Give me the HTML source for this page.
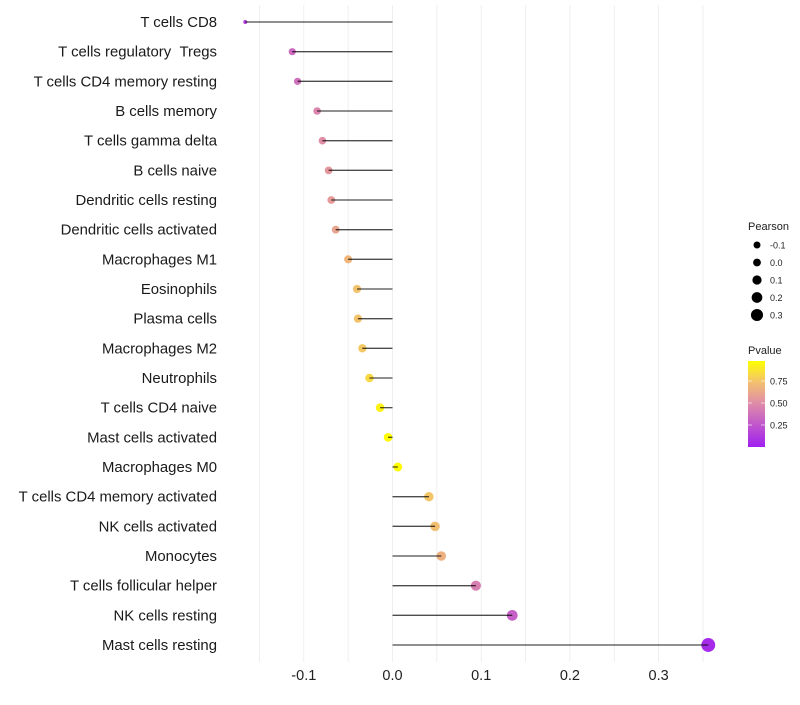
<!DOCTYPE html>
<html><head><meta charset="utf-8"><style>
body{margin:0;background:#fff;}
svg{font-family:"Liberation Sans",sans-serif;}
</style></head><body>
<svg id="chart" width="800" height="700"></svg>
<script>
const categories=["T cells CD8","T cells regulatory \u00a0Tregs","T cells CD4 memory resting","B cells memory","T cells gamma delta","B cells naive","Dendritic cells resting","Dendritic cells activated","Macrophages M1","Eosinophils","Plasma cells","Macrophages M2","Neutrophils","T cells CD4 naive","Mast cells activated","Macrophages M0","T cells CD4 memory activated","NK cells activated","Monocytes","T cells follicular helper","NK cells resting","Mast cells resting"];
const pearson=[-0.166,-0.113,-0.107,-0.085,-0.079,-0.072,-0.069,-0.064,-0.050,-0.040,-0.039,-0.034,-0.026,-0.014,-0.005,0.006,0.041,0.048,0.055,0.094,0.135,0.356];
const pvalue=[0.15,0.35,0.38,0.47,0.52,0.56,0.58,0.62,0.7,0.76,0.76,0.78,0.85,0.95,0.99,0.99,0.77,0.74,0.68,0.45,0.3,0.05];
const xTicks=[-0.1,0,0.1,0.2,0.3];
const xTickLabels=["-0.1","0.0","0.1","0.2","0.3"];
const gridVals=[-0.15,-0.1,-0.05,0,0.05,0.1,0.15,0.2,0.25,0.3,0.35];
const sizeLegend=[-0.1,0.0,0.1,0.2,0.3];
const colorLegendTicks=[0.25,0.5,0.75];

const NS="http://www.w3.org/2000/svg";
const svg=document.getElementById('chart');
function mk(t,a,p){const e=document.createElementNS(NS,t);for(const k in a)e.setAttribute(k,a[k]);(p||svg).appendChild(e);return e;}
const x=v=>392.5+v*887;
const y=i=>22+i*(623/(categories.length-1));
const pmin=Math.min(...pearson);
const rad=v=>v<=pmin+1e-9?2:Math.max(2,4.4+7.2*v);
function lerp(a,b,t){return a.map((c,i)=>Math.round(c+(b[i]-c)*t));}
const stops=[[0,[160,32,240]],[0.5,[222,138,170]],[0.75,[243,192,112]],[1,[255,255,0]]];
function col(p){for(let i=1;i<stops.length;i++){if(p<=stops[i][0]){const a=stops[i-1],b=stops[i];return `rgb(${lerp(a[1],b[1],(p-a[0])/(b[0]-a[0])).join(',')})`;}}return 'rgb(255,255,0)';}

gridVals.forEach(g=>{const l=mk('line',{x1:x(g),x2:x(g),y1:5,y2:662,stroke:'#ebebeb','stroke-width':0.8});

});
xTicks.forEach((t,i)=>{const e=mk('text',{x:x(t),y:680,'text-anchor':'middle','font-size':14.5,fill:'#222'});e.textContent=xTickLabels[i];

});
categories.forEach((c,i)=>{
 const t=mk('text',{x:217,y:y(i)+5,'text-anchor':'end','font-size':14.9,fill:'#1a1a1a'});t.textContent=c;
 
 
 const d=mk('circle',{cx:x(pearson[i]),cy:y(i),r:rad(pearson[i]),fill:col(pvalue[i])});
 
 
 const l=mk('line',{x1:x(0),x2:x(pearson[i]),y1:y(i),y2:y(i),stroke:'#000','stroke-opacity':0.7,'stroke-width':1.3});
 
 
});
const lt=mk('text',{x:748,y:230,'font-size':11,fill:'#222'});lt.textContent='Pearson';


sizeLegend.forEach((v,i)=>{const cy=245+i*17.5;
 const c=mk('circle',{cx:757,cy:cy,r:Math.max(3.5,rad(v)-0.5),fill:'#000'});
 
 
 const t=mk('text',{x:770,y:cy+3.5,'font-size':9,fill:'#222'});t.textContent=v.toFixed(1);
 
 });
const pt=mk('text',{x:748,y:354,'font-size':11,fill:'#222'});pt.textContent='Pvalue';


const defs=mk('defs',{});const lg=mk('linearGradient',{id:'g',x1:0,y1:1,x2:0,y2:0},defs);
[0,0.25,0.5,0.625,0.75,0.875,1].forEach(s=>mk('stop',{offset:s,'stop-color':col(s)},lg));
const bar=mk('rect',{x:748,y:361,width:17,height:86,fill:'url(#g)'});


colorLegendTicks.forEach(v=>{const yy=447-v*88;
 mk('line',{x1:748,x2:752,y1:yy,y2:yy,stroke:'#fff','stroke-width':0.6});
 mk('line',{x1:761,x2:765,y1:yy,y2:yy,stroke:'#fff','stroke-width':0.6});
 const t=mk('text',{x:770,y:yy+3.5,'font-size':9,fill:'#222'});t.textContent=v.toFixed(2);
 
 });
</script>
</body></html>
